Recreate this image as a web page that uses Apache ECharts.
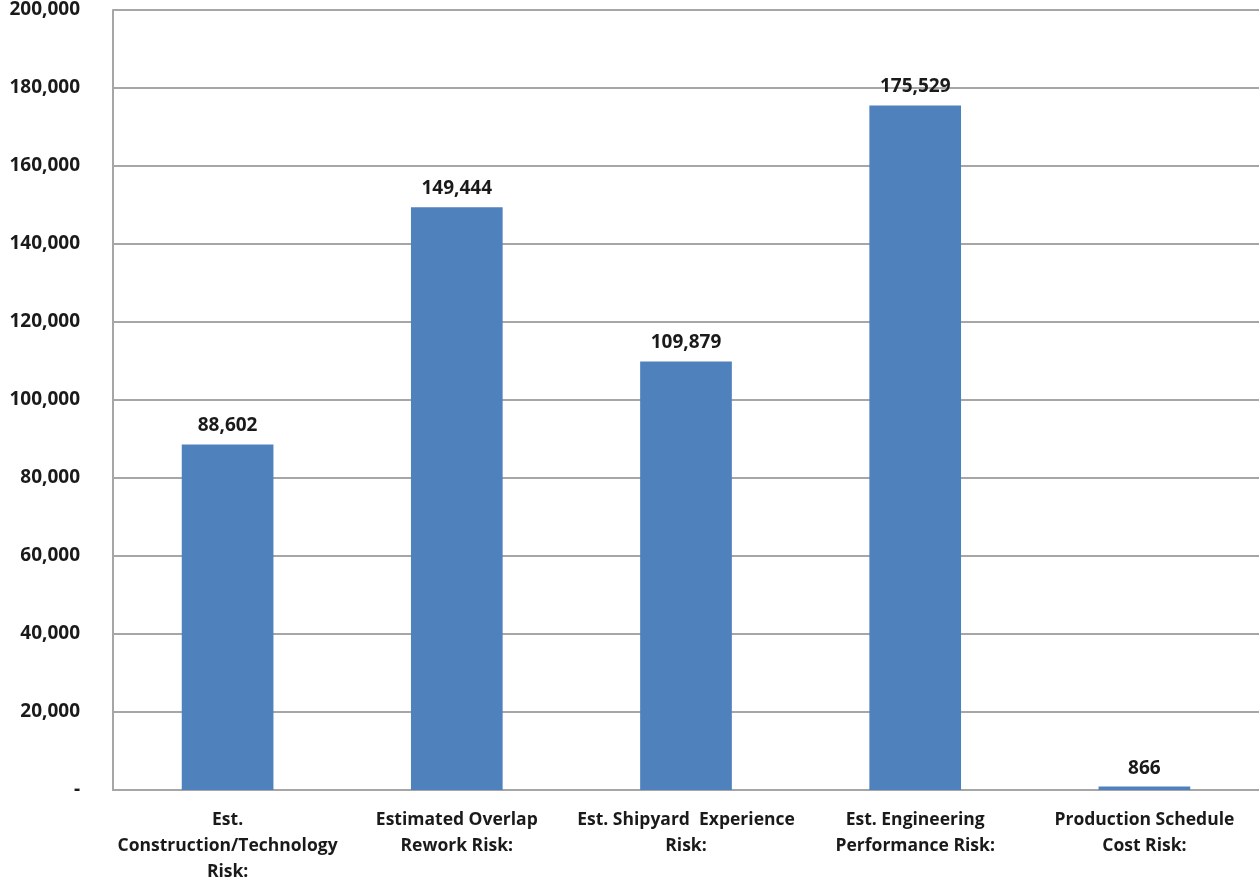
<!DOCTYPE html>
<html>
<head>
<meta charset="utf-8">
<style>
  html, body { margin: 0; padding: 0; background: #ffffff; }
  #chart { width: 1259px; height: 879px; }
</style>
<script src="https://cdn.jsdelivr.net/npm/echarts@6/dist/echarts.min.js"></script>
</head>
<body>
<div id="chart"></div>
<script>
// Risk categories and their estimated cost values
const categories = [
  'Est.\nConstruction/Technology\nRisk:',
  'Estimated Overlap\nRework Risk:',
  'Est. Shipyard  Experience\nRisk:',
  'Est. Engineering\nPerformance Risk:',
  'Production Schedule\nCost Risk:'
];
const riskValues = [88602, 149444, 109879, 175529, 866];
const yTicks = { min: 0, max: 200000, interval: 20000 };

const FONT = '"Open Sans", "Liberation Sans", sans-serif';
const GRID_COLOR = '#a6a6a6';

const chart = echarts.init(document.getElementById('chart'));
chart.setOption({
  animation: false,
  backgroundColor: '#ffffff',
  grid: {
    left: 113, right: 0, top: 10, bottom: 89,
    containLabel: false,
    outerBoundsMode: 'none'
  },
  xAxis: {
    type: 'category',
    data: categories,
    axisLine: { show: true, lineStyle: { color: GRID_COLOR, width: 2 } },
    axisTick: { show: false },
    axisLabel: {
      interval: 0,
      margin: 17,
      color: '#1a1a1a',
      fontFamily: FONT,
      fontWeight: 'bold',
      fontSize: 17.5,
      lineHeight: 26,
      align: 'center'
    }
  },
  yAxis: {
    type: 'value',
    min: yTicks.min,
    max: yTicks.max,
    interval: yTicks.interval,
    axisLine: { show: true, lineStyle: { color: GRID_COLOR, width: 2 } },
    axisTick: { show: false },
    splitLine: { show: true, lineStyle: { color: GRID_COLOR, width: 2 } },
    axisLabel: {
      margin: 33,
      color: '#1a1a1a',
      fontFamily: FONT,
      fontWeight: 'bold',
      fontSize: 19,
      formatter: v => v === 0 ? '-' : v.toLocaleString('en-US')
    }
  },
  series: [{
    type: 'bar',
    data: riskValues,
    barWidth: '40%',
    itemStyle: { color: '#4f81bd' },
    label: {
      show: true,
      position: 'top',
      distance: 9,
      color: '#1a1a1a',
      fontFamily: FONT,
      fontWeight: 'bold',
      fontSize: 19,
      formatter: p => p.value.toLocaleString('en-US')
    }
  }]
});
</script>
</body>
</html>
